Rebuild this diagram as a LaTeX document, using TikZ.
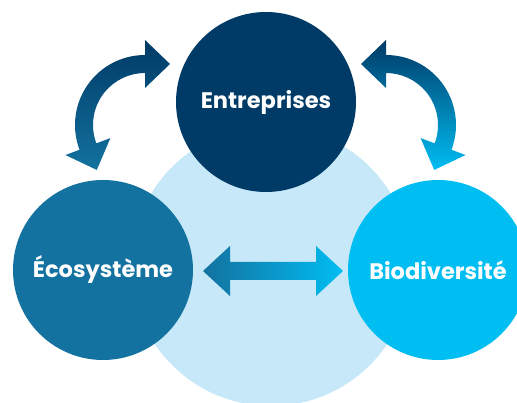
\documentclass[tikz,border=0pt]{standalone}
\usepackage{fontspec}
\setmainfont{Poppins}
\usetikzlibrary{calc}
\definecolor{navy}{HTML}{003A66}
\definecolor{ecoblue}{HTML}{13729F}
\definecolor{biocyan}{HTML}{00BDF2}
\definecolor{paleblue}{HTML}{C6E8F8}
\tikzset{
  bubble/.style={circle, minimum size=180pt, inner sep=0pt, text=white,
    font=\bfseries\fontsize{22.5}{26}\selectfont},
}
% curved double-headed arc: centre (C), mid radius 61, shaft 18 wide, heads 48 wide and 25 long
\newcommand{\curvedarrow}[2]{%
  \coordinate (C) at (145,278);
  \shade[top color=#1, bottom color=#2]
    ($(C)+(90:70)$) arc[start angle=90, end angle=200.7, radius=70]
    -- ($(C)+(200.7:85)$)
    -- ($(C)+(200.7:61)+(290.7:25)$)
    -- ($(C)+(200.7:37)$)
    -- ($(C)+(200.7:52)$) arc[start angle=200.7, end angle=90, radius=52]
    -- ($(C)+(90:37)$)
    -- ($(C)+(90:61)+(0:25)$)
    -- ($(C)+(90:85)$) -- cycle;}
\begin{document}
\begin{tikzpicture}[x=1pt,y=1pt]
  \useasboundingbox (0,0) rectangle (517,403);
  % pale background disc
  \fill[paleblue] (271,137) circle[radius=140];
  % the three bubbles
  \node[bubble, fill=ecoblue] (eco) at (103,133) {\raisebox{-3pt}{Écosystème}};
  \node[bubble, fill=biocyan] (bio) at (438,133) {\raisebox{-3pt}{Biodiversité}};
  \node[bubble, fill=navy] (ent) at (266,301) {\raisebox{-3.5pt}{Entreprises}};
  % horizontal double arrow between the lower bubbles
  \coordinate (ml) at (203,132);
  \coordinate (mr) at (343,132);
  \shade[left color=ecoblue, right color=biocyan]
    (ml) -- ++(27,25) -- ++(0,-16) -- ($(mr)+(-27,9)$) -- ++(0,16)
    -- (mr) -- ++(-27,-25) -- ++(0,16) -- ($(ml)+(27,-9)$) -- ++(0,-16) -- cycle;
  % curved arrows linking the top bubble to the lower ones
  \begin{scope}
    \curvedarrow{navy}{ecoblue}
  \end{scope}
  \begin{scope}[xshift=531pt, xscale=-1]
    \curvedarrow{navy}{biocyan}
  \end{scope}
\end{tikzpicture}
\end{document}
